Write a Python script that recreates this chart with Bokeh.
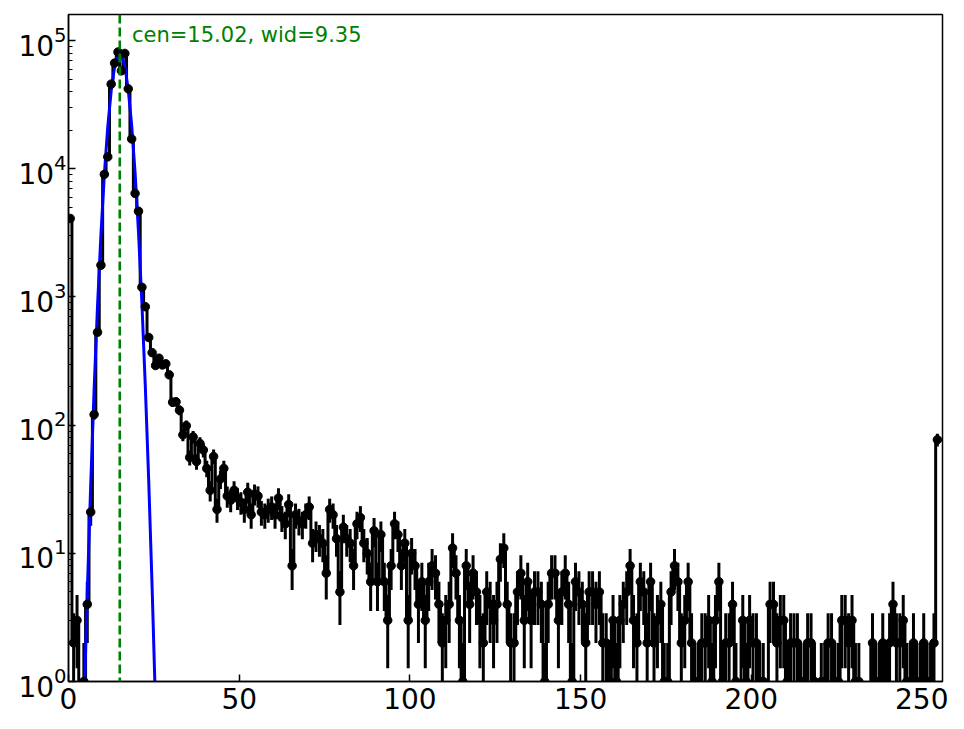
import numpy as np
from bokeh.plotting import figure
from bokeh.models import Range1d, FixedTicker, LogTicker, Label, Span
from bokeh.embed import file_html
from bokeh.resources import INLINE

# counts per bin (bins 0..254, plotted at bin centres)
counts = [
    4100, 2, 3, 0, 1, 4, 21, 121, 531, 1770,
    9060, 12400, 45800, 66800, 81500, 58200, 79500, 42100, 17100, 6430,
    4670, 1190, 840, 483, 368, 292, 333, 295, 301, 247,
    151, 152, 131, 84, 99, 56, 81, 52, 72, 64,
    46, 31, 57, 22, 38, 46, 28, 26, 31, 27,
    25, 22, 30, 20, 29, 28, 21, 20, 22, 23,
    20, 27, 19, 17, 24, 8, 20, 18, 17, 20,
    23, 12, 14, 13, 12, 7, 22, 20, 13, 5,
    16, 13, 12, 8, 17, 19, 12, 10, 6, 15,
    6, 14, 6, 3, 8, 17, 14, 8, 12, 3,
    10, 8, 4, 6, 3, 6, 8, 7, 4, 2,
    3, 4, 11, 7, 3, 1, 8, 4, 7, 5,
    3, 2, 5, 4, 3, 4, 9, 11, 4, 2,
    2, 5, 7, 3, 6, 3, 5, 5, 4, 1,
    4, 7, 7, 3, 5, 7, 4, 1, 6, 5,
    4, 2, 5, 5, 4, 5, 2, 2, 1, 3,
    1, 3, 4, 5, 8, 3, 2, 6, 5, 2,
    6, 2, 3, 4, 1, 1, 5, 8, 6, 2,
    3, 6, 2, 1, 1, 2, 2, 3, 1, 3,
    6, 1, 2, 2, 4, 1, 0, 3, 1, 3,
    2, 2, 1, 1, 0, 4, 4, 2, 3, 3,
    1, 2, 2, 2, 1, 1, 2, 2, 1, 0,
    1, 1, 2, 2, 1, 1, 3, 3, 2, 3,
    1, 1, 0, 0, 0, 2, 1, 1, 2, 1,
    2, 4, 2, 2, 3, 1, 1, 2, 1, 1,
    2, 1, 1, 2, 77,
]

# gaussian fit curve (blue), sampled at the bin centres
fit_x = [4.5, 5.5, 6.5, 7.5, 8.5, 9.5, 10.5, 11.5, 12.5, 13.5, 14.5,
         15.5, 16.5, 17.5, 18.5, 19.5, 20.5, 21.5, 22.5, 23.5, 24.5, 25.5, 26.5]
fit_y = [0.58, 4.9, 34, 189, 848, 3075, 9000, 21260, 40560, 62490, 77720,
         78060, 63290, 41440, 21900, 9350, 3220, 897, 201, 36.6, 5.35, 0.63, 0.06]
fit_cen = 15.02
fit_wid = 9.35

x_ticks = [0, 50, 100, 150, 200, 250]


def make_plot():
    x = np.arange(len(counts)) + 0.5
    c = np.array(counts, dtype=float)
    floor = 1e-2  # zero counts drop below the axis, like a clipped log plot
    y_line = np.where(c > 0, c, floor)

    has = c > 0
    xm = x[has]
    ym = c[has]
    err = np.sqrt(ym)
    lo = np.maximum(ym - err, floor)
    hi = ym + err

    p = figure(frame_width=874, frame_height=667, y_axis_type="log",
               x_range=Range1d(0, 256), y_range=Range1d(1, 1.6e5),
               output_backend="svg", toolbar_location=None,
               min_border_left=68, min_border_right=6, min_border_top=14,
               min_border_bottom=36)

    p.step(x, y_line, mode="center", line_color="black", line_width=3)
    p.segment(x0=xm, y0=lo, x1=xm, y1=hi, line_color="black", line_width=3)
    p.line(fit_x, fit_y, line_color="blue", line_width=3)
    p.scatter(xm, ym, size=8.5, fill_color="black", line_color="black")

    p.add_layout(Span(location=fit_cen, dimension="height", line_color="green",
                      line_dash="9 4", line_width=2.6))
    p.add_layout(Label(x=18.6, y=1.1e5, text=f"cen={fit_cen:.2f}, wid={fit_wid:.2f}",
                       text_color="green", text_font="DejaVu Sans",
                       text_font_size="21px", text_baseline="alphabetic"))

    p.xgrid.visible = False
    p.ygrid.visible = False
    p.outline_line_color = "black"
    p.outline_line_width = 1.5
    p.outline_line_alpha = 1.0

    p.xaxis.ticker = FixedTicker(ticks=x_ticks)
    p.yaxis.ticker = LogTicker(num_minor_ticks=10)
    for ax in (p.xaxis[0], p.yaxis[0]):
        ax.major_label_text_font = "DejaVu Sans"
        ax.major_label_text_font_size = "28px"
        ax.major_label_text_color = "black"
        ax.axis_line_width = 1.5
        ax.axis_line_color = "black"
        ax.major_tick_in = 7
        ax.major_tick_out = 0
        ax.major_tick_line_width = 1.5
        ax.minor_tick_in = 4
        ax.minor_tick_out = 0
        ax.minor_tick_line_width = 1.2
    p.xaxis.minor_tick_line_color = None
    p.xaxis.major_label_standoff = 6
    p.yaxis.major_label_standoff = 2
    return p


def main():
    p = make_plot()
    open("out.html", "w").write(file_html(p, INLINE))


if __name__ == '__main__':
    main()
